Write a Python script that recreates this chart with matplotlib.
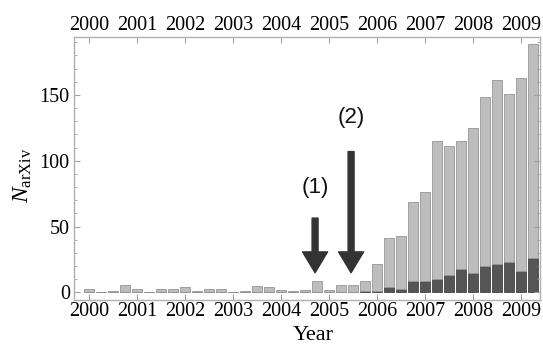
import matplotlib
matplotlib.use("Agg")
import matplotlib.pyplot as plt

# quarterly bins, 2000 Q1 .. 2009 Q2
quarters = [2000.0, 2000.25, 2000.5, 2000.75,
            2001.0, 2001.25, 2001.5, 2001.75,
            2002.0, 2002.25, 2002.5, 2002.75,
            2003.0, 2003.25, 2003.5, 2003.75,
            2004.0, 2004.25, 2004.5, 2004.75,
            2005.0, 2005.25, 2005.5, 2005.75,
            2006.0, 2006.25, 2006.5, 2006.75,
            2007.0, 2007.25, 2007.5, 2007.75,
            2008.0, 2008.25, 2008.5, 2008.75,
            2009.0, 2009.25]
total = [2.5, 0.5, 1.5, 6,
         2.5, 0.5, 3, 2.5,
         4, 1.5, 2.5, 3,
         0.5, 1.5, 5, 4,
         1.8, 1, 2, 9,
         2, 6, 6, 8.5,
         22, 41, 43, 68.5,
         76.5, 115, 111, 115,
         125, 148.5, 161, 150.5,
         163, 189]
dark = [0, 0, 0, 0,
        0, 0, 0, 0,
        0, 0, 0, 0,
        0, 0, 0, 0,
        0, 0, 0, 0,
        0, 0, 0, 1,
        1.5, 4, 3, 9,
        9, 10, 13, 18,
        15, 20, 22, 23,
        16, 26]
year_ticks = [2000, 2001, 2002, 2003, 2004, 2005, 2006, 2007, 2008, 2009]
y_ticks = [0, 50, 100, 150]

# arrows: (x, tip, tail, label, label_y)
arrows = [(2004.71, 15, 56.5, "(1)", 80),
          (2005.46, 15, 107, "(2)", 133)]

plt.rcParams["font.family"] = "Liberation Serif"
plt.rcParams["mathtext.fontset"] = "custom"
plt.rcParams["mathtext.rm"] = "Liberation Serif"
plt.rcParams["mathtext.it"] = "Liberation Serif:italic"

fig = plt.figure(figsize=(5.43, 3.44), dpi=100)
ax = fig.add_axes([74 / 543, 1 - 300 / 344, 466 / 543, 263 / 344])

light = [t - d for t, d in zip(total, dark)]
ax.bar(quarters, dark, width=0.21, color="#555555", edgecolor="#444444", linewidth=0.6)
ax.bar(quarters, light, bottom=dark, width=0.21, color="#bdbdbd", edgecolor="#969696", linewidth=0.6)

for x, tip, tail, lab, ly in arrows:
    ax.annotate("", xy=(x, tip), xytext=(x, tail),
                arrowprops=dict(facecolor="#333333", edgecolor="#333333",
                                width=4.3, headwidth=18, headlength=15, shrink=0))
    ax.text(x, ly, lab, ha="center", va="center", fontsize=16,
            family="Liberation Sans", color="#111111")

ax.set_xlim(1999.6875, 2009.396)
ax.set_ylim(-5.7, 194)
ax.set_xticks(year_ticks)
ax.set_yticks(y_ticks)
ax.set_yticks(range(10, 191, 10), minor=True)

ax.tick_params(axis="both", which="both", direction="in", colors="#a0a0a0",
               labelcolor="black", labelsize=14.5, top=True, right=True)
ax.tick_params(axis="x", labeltop=True, length=4, pad=1.5)
ax.tick_params(axis="y", which="major", length=4, pad=3)
ax.tick_params(axis="y", which="minor", length=2)
for s in ax.spines.values():
    s.set_color("#b0b0b0")
    s.set_linewidth(1.0)

ax.set_xlabel("Year", fontsize=16)
ax.xaxis.set_label_coords(0.513, -0.097)
ax.set_ylabel(r"$N_{\rm arXiv}$", fontsize=17)
ax.yaxis.set_label_coords(-0.086, 0.475)

fig.savefig("out.png", dpi=100)
